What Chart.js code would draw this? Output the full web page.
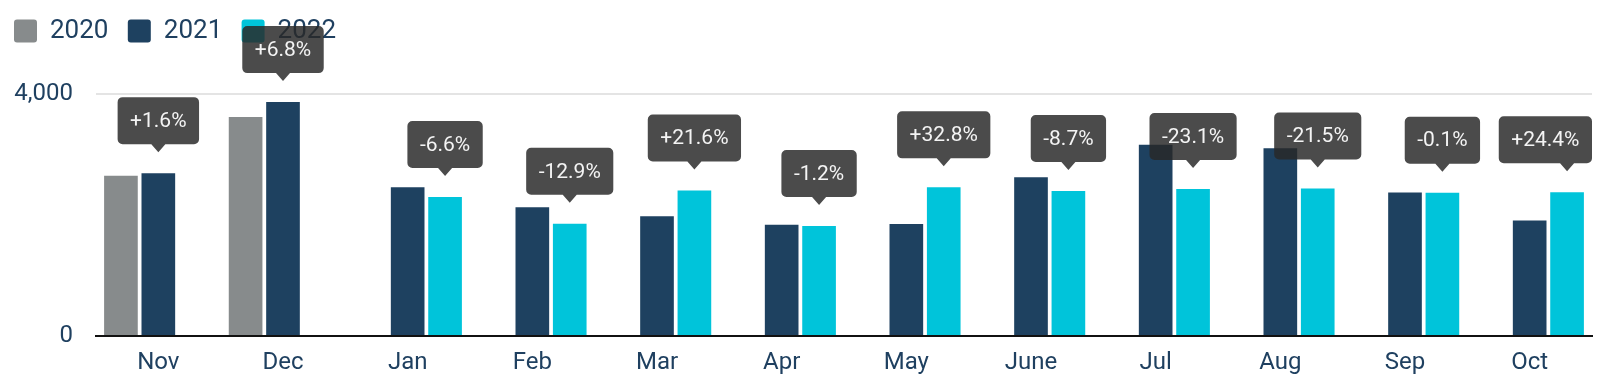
<!DOCTYPE html>
<html>
<head>
<meta charset="utf-8">
<script src="https://cdn.jsdelivr.net/npm/chart.js@4"></script>
<style>
  html, body { margin: 0; padding: 0; background: #fff; }
  #wrap { width: 1603px; height: 388px; }
</style>
</head>
<body>
<div id="wrap"><canvas id="barChart"></canvas></div>
<script>
// chart data
const months = ['Nov', 'Dec', 'Jan', 'Feb', 'Mar', 'Apr', 'May', 'June', 'Jul', 'Aug', 'Sep', 'Oct'];
const values2020 = [2650, 3620, null, null, null, null, null, null, null, null, null, null];
const values2021 = [2692, 3866, 2460, 2130, 1978, 1840, 1850, 2625, 3160, 3105, 2370, 1910];
const values2022 = [null, null, 2298, 1855, 2405, 1818, 2457, 2397, 2430, 2437, 2368, 2376];
const changeLabels = ['+1.6%', '+6.8%', '-6.6%', '-12.9%', '+21.6%', '-1.2%', '+32.8%', '-8.7%', '-23.1%', '-21.5%', '-0.1%', '+24.4%'];
const yTickValues = [0, 4000];

const textColor = '#1f4060';

// bubble with the % change above the latest bar of each month
const changeBubbles = {
    id: 'changeBubbles',
    afterDatasetsDraw(chart) {
        const ctx = chart.ctx;
        const area = chart.chartArea;
        ctx.save();
        ctx.font = '21px Roboto';
        ctx.textAlign = 'center';
        ctx.textBaseline = 'middle';
        changeLabels.forEach(function(txt, i) {
            let bar = null;
            for (let d = chart.data.datasets.length - 1; d >= 0; d--) {
                if (chart.data.datasets[d].data[i] != null) {
                    bar = chart.getDatasetMeta(d).data[i];
                    break;
                }
            }
            if (!bar) return;
            const tipY = bar.y - 21;
            const boxBottom = tipY - 8;
            const boxH = 47;
            const w = ctx.measureText(txt).width + 25;
            // keep the box inside the plot on the right
            const x0 = Math.min(bar.x - w / 2, area.right - w);
            ctx.fillStyle = 'rgba(40,40,40,0.84)';
            ctx.beginPath();
            ctx.roundRect(x0, boxBottom - boxH, w, boxH, 5);
            ctx.moveTo(bar.x - 7, boxBottom);
            ctx.lineTo(bar.x, tipY);
            ctx.lineTo(bar.x + 7, boxBottom);
            ctx.closePath();
            ctx.fill();
            ctx.fillStyle = '#f4f4f4';
            ctx.fillText(txt, x0 + w / 2, boxBottom - boxH / 2 + 1);
        });
        ctx.restore();
    }
};

// extra room under the legend
const legendSpace = {
    id: 'legendSpace',
    beforeInit(chart) {
        const fit = chart.legend.fit;
        chart.legend.fit = function() {
            fit.call(this);
            this.height += 40;
        };
    }
};

const ctx = document.getElementById('barChart').getContext('2d');

new Chart(ctx, {
    type: 'bar',
    data: {
        labels: months,
        datasets: [
            { label: '2020', data: values2020, backgroundColor: '#878b8c' },
            { label: '2021', data: values2021, backgroundColor: '#1e4160' },
            { label: '2022', data: values2022, backgroundColor: '#00c4da' }
        ]
    },
    options: {
        responsive: true,
        maintainAspectRatio: false,
        animation: false,
        layout: { padding: { top: 18, left: 14, right: 11, bottom: 10 } },
        datasets: {
            bar: { categoryPercentage: 0.9, barPercentage: 0.9 }
        },
        scales: {
            x: {
                afterFit(axis) {
                    axis.height = 42;
                },
                grid: { display: false, drawTicks: false },
                border: { display: true, color: '#111', width: 2 },
                ticks: { color: textColor, font: { family: 'Roboto', size: 24 }, padding: 13 }
            },
            y: {
                min: 0,
                max: 4000,
                afterBuildTicks(axis) {
                    axis.ticks = yTickValues.map(v => ({ value: v }));
                },
                afterFit(axis) {
                    axis.width = 82;
                },
                grid: { color: '#e4e4e4', lineWidth: 2, drawTicks: false },
                border: { display: false },
                ticks: {
                    color: textColor,
                    font: { family: 'Roboto', size: 24 },
                    padding: 23,
                    callback: v => v.toLocaleString('en-US')
                }
            }
        },
        plugins: {
            legend: {
                position: 'top',
                align: 'start',
                labels: {
                    color: textColor,
                    font: { family: 'Roboto', size: 26 },
                    boxWidth: 23,
                    boxHeight: 23,
                    useBorderRadius: true,
                    borderRadius: 3,
                    padding: 0,
                    generateLabels(chart) {
                        const items = Chart.defaults.plugins.legend.labels.generateLabels(chart);
                        items.forEach(it => { it.text = it.text + '   '; it.lineWidth = 0; });
                        return items;
                    }
                }
            },
            tooltip: { enabled: false }
        }
    },
    plugins: [changeBubbles, legendSpace]
});
</script>
</body>
</html>
